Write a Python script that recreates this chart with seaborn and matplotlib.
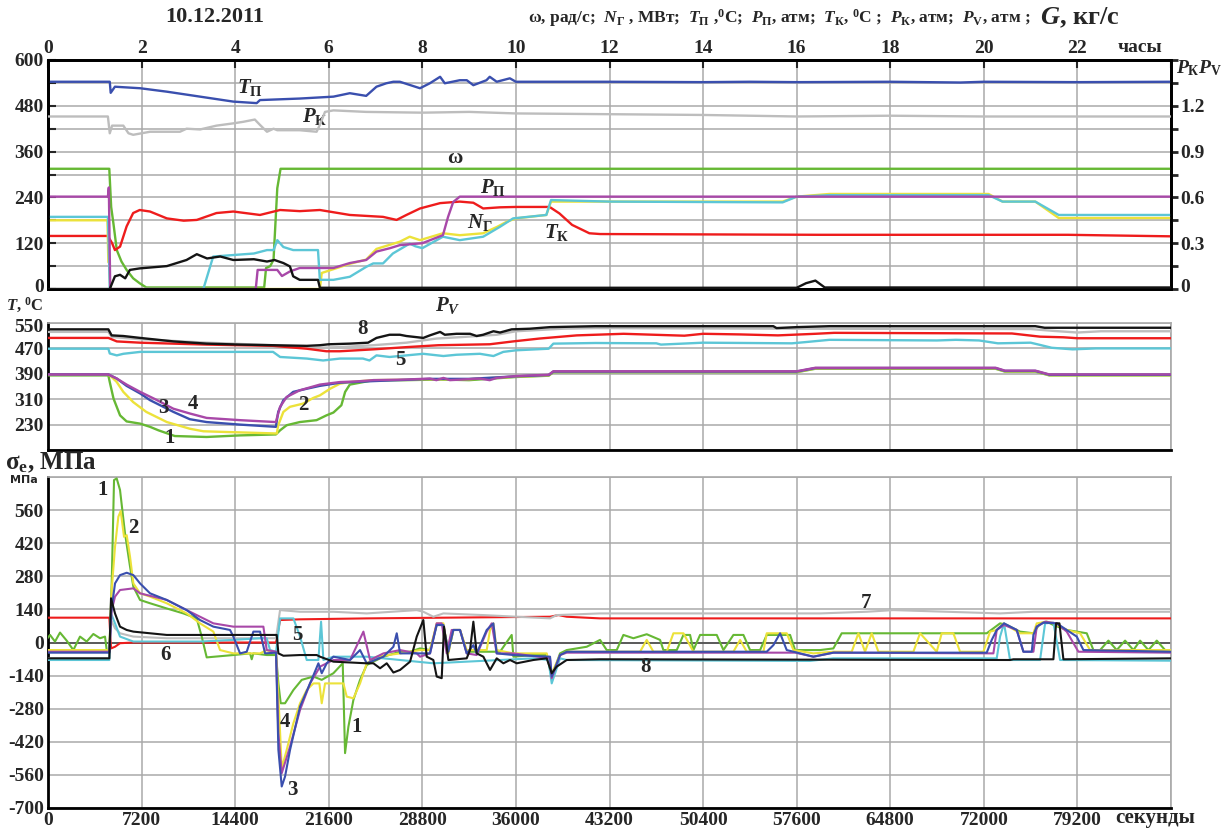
import matplotlib
matplotlib.use("Agg")
import matplotlib.pyplot as plt
import matplotlib.transforms as mtransforms
import numpy as np
import pandas as pd
import seaborn as sns

# ---------------- data: top panel (hours) ----------------
hours_ticks = [0, 2, 4, 6, 8, 10, 12, 14, 16, 18, 20, 22]
tp_blue = [(0, 543), (1.32, 543), (1.34, 514), (1.43, 530), (1.97, 526), (2.54, 517), (3.25, 504), (3.96, 491),
           (4.46, 487), (4.53, 495), (5.38, 499), (6.1, 504), (6.45, 513), (6.8, 506), (7.02, 530), (7.23, 539),
           (7.38, 543), (7.52, 543), (7.95, 526), (8.16, 539), (8.38, 556), (8.48, 539), (8.8, 547), (8.95, 547),
           (9.09, 534), (9.37, 547), (9.44, 556), (9.59, 543), (9.87, 552), (10.0, 543), (12.0, 543), (14.0, 542),
           (15.0, 543), (16.0, 542), (18.0, 543), (19.5, 541), (20.0, 543), (22.0, 542), (24.0, 543)]
pk_gray_atm = [(0, 1.13), (1.28, 1.13), (1.30, 1.075), (1.32, 1.02), (1.37, 1.07), (1.61, 1.07), (1.72, 1.02),
               (1.82, 1.01), (2.18, 1.03), (2.82, 1.03), (2.96, 1.05), (3.25, 1.045), (3.6, 1.07), (3.96, 1.085),
               (4.17, 1.095), (4.42, 1.11), (4.53, 1.075), (4.68, 1.03), (4.82, 1.05), (4.9, 1.04), (5.38, 1.04),
               (5.74, 1.03), (5.81, 1.075), (5.92, 1.16), (6.1, 1.17), (6.8, 1.16), (8.0, 1.155), (9.0, 1.16),
               (10.0, 1.15), (12.0, 1.145), (14.0, 1.14), (16.0, 1.13), (18.0, 1.135), (20.0, 1.13), (22.0, 1.13),
               (24.0, 1.13)]
omega_green = [(0, 315), (1.31, 315), (1.35, 215), (1.40, 170), (1.47, 102), (1.57, 72), (1.68, 50), (1.82, 28),
               (1.96, 15), (2.1, 4), (4.62, 4), (4.66, 55), (4.75, 60), (4.82, 77), (4.9, 264), (4.97, 315),
               (24, 315)]
pp_magenta = [(0, 242), (1.28, 242), (1.30, 266), (1.33, 0), (4.44, 0), (4.48, 50), (4.9, 50), (5.0, 34),
              (5.17, 46), (5.38, 55), (6.1, 55), (6.45, 68), (6.8, 76), (7.02, 98), (7.31, 107), (7.52, 115),
              (8.0, 120), (8.44, 141), (8.55, 189), (8.66, 228), (8.8, 242), (24, 242)]
ng_yellow = [(0, 180), (1.27, 180), (1.29, 70), (1.31, 70), (1.33, 0), (5.81, 0), (5.85, 42), (6.1, 52),
             (6.45, 66), (6.8, 77), (7.02, 105), (7.52, 124), (7.73, 137), (7.95, 128), (8.44, 146), (8.8, 141),
             (9.3, 146), (9.6, 163), (9.8, 176), (10.0, 185), (10.65, 194), (10.75, 229), (12, 229), (15.7, 229),
             (16.0, 242), (16.4, 246), (16.7, 249), (20.1, 249), (20.4, 229), (21.1, 229), (21.6, 186), (24, 186)]
g_cyan = [(0, 189), (1.28, 189), (1.30, 100), (1.32, 0), (3.32, 0), (3.53, 85), (3.96, 89), (4.4, 93),
          (4.68, 102), (4.82, 102), (4.9, 128), (5.03, 110), (5.24, 102), (5.77, 102), (5.81, 24), (6.1, 24),
          (6.45, 32), (6.8, 58), (6.95, 67), (7.16, 67), (7.37, 93), (7.73, 119), (7.85, 112), (8.0, 107),
          (8.44, 137), (8.8, 128), (9.3, 137), (9.66, 163), (9.94, 185), (10.65, 194), (10.75, 233), (12, 229),
          (15.7, 227), (16.0, 242), (16.4, 244), (16.7, 246), (20.1, 246), (20.4, 229), (21.1, 229), (21.6, 194),
          (24, 194)]
tk_red = [(0, 139), (1.28, 139), (1.37, 120), (1.43, 102), (1.54, 111), (1.68, 164), (1.82, 199), (1.96, 207),
          (2.18, 203), (2.54, 185), (2.9, 179), (3.18, 181), (3.6, 199), (3.96, 203), (4.53, 194), (4.96, 207),
          (5.38, 204), (5.81, 207), (6.45, 194), (7.16, 189), (7.45, 181), (7.66, 194), (7.95, 211), (8.38, 225),
          (8.8, 229), (9.09, 226), (9.3, 211), (9.66, 214), (10.0, 215), (10.72, 215), (10.93, 198), (11.2, 168),
          (11.57, 146), (11.8, 144), (16.5, 142), (21.8, 142), (24, 138)]
pv_black_atm = [(0, 0), (1.32, 0), (1.43, 0.083), (1.54, 0.093), (1.65, 0.07), (1.75, 0.125), (1.96, 0.135),
                (2.54, 0.15), (2.96, 0.19), (3.18, 0.228), (3.4, 0.2), (3.68, 0.213), (3.96, 0.19), (4.4, 0.195),
                (4.68, 0.18), (4.84, 0.19), (5.03, 0.17), (5.17, 0.148), (5.24, 0.083), (5.38, 0.06),
                (5.77, 0.06), (5.81, 0.008), (16.0, 0.008), (16.2, 0.038), (16.4, 0.055), (16.6, 0.01), (24, 0.01)]

# ---------------- data: middle panel, temperatures (hours) ----------------
t8_black = [(0, 530), (1.29, 530), (1.36, 511), (1.61, 509), (1.97, 503), (2.68, 492), (3.39, 485), (4.1, 482),
            (4.81, 480), (5.53, 478), (5.81, 480), (6.0, 483), (6.45, 485), (6.84, 488), (7.02, 503), (7.3, 513),
            (7.52, 513), (7.66, 509), (8.02, 503), (8.16, 511), (8.38, 522), (8.48, 513), (8.73, 516), (9.02, 516),
            (9.16, 509), (9.3, 513), (9.52, 524), (9.66, 520), (9.91, 530), (10.3, 532), (10.73, 537), (11.7, 540),
            (15.5, 540), (15.57, 534), (16.0, 537), (16.7, 540), (21.1, 540), (21.3, 535), (24, 535)]
t7_gray = [(0, 522), (1.29, 522), (1.36, 506), (1.97, 499), (3.39, 488), (4.81, 480), (5.53, 471), (6.24, 474),
           (6.95, 480), (7.66, 488), (8.3, 501), (8.87, 506), (9.59, 513), (10.0, 524), (11.0, 532), (11.7, 534),
           (16.0, 532), (21.0, 531), (21.5, 525), (22.0, 520), (22.5, 524), (24, 524)]
t6_red = [(0, 503), (1.29, 503), (1.47, 492), (1.97, 488), (2.68, 485), (3.39, 482), (4.1, 480), (4.81, 478),
          (5.53, 469), (5.95, 461), (6.24, 461), (6.95, 467), (7.66, 474), (8.34, 480), (9.44, 483), (9.94, 492),
          (10.5, 501), (11.3, 511), (12.3, 516), (13.6, 510), (14.0, 516), (14.8, 514), (15.6, 511), (16.4, 516),
          (16.8, 519), (20.6, 517), (21.2, 507), (21.7, 505), (22.0, 502), (24, 502)]
t5_cyan = [(0, 469), (1.29, 469), (1.32, 454), (1.47, 448), (1.61, 453), (1.97, 459), (4.81, 459), (4.96, 443),
           (5.53, 438), (5.88, 432), (6.24, 438), (6.73, 438), (6.87, 432), (7.02, 448), (7.3, 443), (7.66, 448),
           (8.02, 453), (8.45, 446), (8.73, 450), (9.23, 453), (9.52, 446), (9.73, 459), (10.0, 464), (10.7, 469),
           (10.8, 485), (11.7, 487), (13.0, 486), (13.1, 482), (14.0, 488), (15.9, 486), (16.2, 490), (16.7, 497),
           (19.0, 495), (19.4, 497), (19.9, 495), (20.3, 486), (21.0, 488), (21.2, 481), (21.45, 472), (21.9, 467),
           (22.4, 470), (24, 470)]
t4_magenta = [(0, 388), (1.29, 388), (1.47, 375), (1.68, 356), (1.97, 333), (2.29, 310), (2.68, 280), (3.03, 265),
              (3.39, 251), (4.1, 244), (4.87, 238), (4.89, 249), (4.96, 286), (5.1, 317), (5.38, 338), (5.81, 356),
              (6.24, 364), (6.6, 366), (6.95, 370), (7.66, 372), (8.16, 375), (8.3, 370), (8.45, 377), (8.59, 370),
              (9.23, 375), (9.44, 370), (9.59, 377), (10.0, 383), (10.7, 387), (10.8, 398), (16.0, 398),
              (16.4, 409), (20.25, 409), (20.45, 400), (21.1, 400), (21.4, 388), (24, 388)]
t3_blue = [(0, 388), (1.29, 388), (1.47, 375), (1.68, 352), (1.97, 328), (2.18, 307), (2.68, 270), (3.03, 247),
           (3.39, 238), (4.1, 230), (4.87, 223), (4.92, 270), (5.03, 307), (5.24, 333), (5.53, 343), (5.81, 352),
           (6.24, 362), (6.95, 367), (7.66, 371), (8.16, 374), (9.0, 374), (10.0, 382), (10.7, 386), (10.8, 397),
           (16.0, 397), (16.4, 408), (20.25, 408), (20.45, 399), (21.1, 399), (21.4, 387), (24, 387)]
t2_yellow = [(0, 387), (1.29, 387), (1.36, 380), (1.47, 364), (1.61, 333), (1.82, 301), (2.1, 270), (2.54, 238),
             (3.03, 217), (3.32, 209), (3.75, 207), (4.89, 202), (4.92, 228), (5.03, 270), (5.17, 286), (5.45, 296),
             (5.67, 314), (5.81, 322), (6.03, 343), (6.24, 359), (6.45, 364), (6.95, 370), (7.66, 371), (8.16, 373),
             (9.0, 373), (10.0, 381), (10.7, 385), (10.8, 396), (16.0, 396), (16.4, 407), (20.25, 407),
             (20.45, 398), (21.1, 398), (21.4, 386), (24, 386)]
t1_green = [(0, 385), (1.29, 385), (1.32, 364), (1.4, 312), (1.54, 259), (1.68, 240), (1.97, 233), (2.18, 223),
            (2.36, 212), (2.71, 194), (3.39, 191), (4.1, 196), (4.87, 199), (4.96, 212), (5.1, 228), (5.38, 238),
            (5.74, 244), (5.95, 259), (6.1, 268), (6.27, 291), (6.35, 333), (6.45, 356), (6.67, 362), (6.95, 370),
            (7.66, 370), (8.37, 372), (9.0, 370), (10.0, 380), (10.7, 384), (10.8, 395), (16.0, 395), (16.4, 406),
            (20.25, 406), (20.45, 397), (21.1, 397), (21.4, 385), (24, 385)]

# ---------------- data: bottom panel, stresses (seconds) ----------------
seconds_ticks = [0, 7200, 14400, 21600, 28800, 36000, 43200, 50400, 57600, 64800, 72000, 79200]
s1_green = [(0, 20), (154, 32), (539, 4), (924, 42), (1437, 8), (1950, -32), (2463, 25), (2976, 4), (3489, 36),
            (4002, 18), (4387, 25), (4515, -32), (4720, -32), (4900, 250), (5080, 687), (5285, 694), (5541, 645),
            (5926, 461), (6311, 321), (6567, 236), (7080, 180), (7850, 166), (9132, 144), (10415, 123),
            (11441, 102), (11826, 25), (12210, -63), (14262, -53), (15545, -46), (15673, -71), (15801, -46),
            (16827, -53), (17545, -53), (17725, -173), (17904, -257), (18238, -257), (18880, -201), (19521, -158),
            (20418, -144), (21060, -158), (21957, -130), (22675, -88), (22855, -468), (23112, -356), (23496, -243),
            (24009, -158), (24522, -95), (25805, -60), (27087, -39), (27853, -39), (28622, -25), (29392, -32),
            (29905, 74), (30418, 74), (30802, -39), (31187, 53), (31700, 53), (32213, -39), (34778, -39),
            (35676, 32), (35804, -60), (37343, -53), (38369, -53), (38754, -144), (39395, -46), (39908, -32),
            (41447, -18), (42473, 11), (42986, -32), (43756, -32), (44269, 32), (45038, 18), (46064, 35),
            (47090, 11), (47347, -32), (48373, -32), (48886, 32), (49399, 32), (49655, -32), (50168, 32),
            (51451, 32), (51964, -32), (52733, 32), (53503, 32), (54016, -32), (54785, -32), (55298, 32),
            (57094, 32), (57478, -32), (59402, -32), (60424, -25), (61065, 39), (72223, 39), (73249, 81),
            (73762, 74), (74788, 46), (75814, 39), (76327, 81), (76840, 88), (77353, 74), (78379, 53), (79918, 39),
            (80431, -32), (80944, -32), (81585, 8), (82227, -32), (82868, 8), (83509, -32), (84022, 8),
            (84663, -32), (85305, 8), (85946, -32), (86400, -32)]
s2_yellow = [(0, -32), (4720, -32), (4900, 222), (5156, 405), (5413, 532), (5592, 556), (5849, 447), (6054, 454),
             (6311, 363), (6567, 250), (7080, 208), (7850, 194), (9132, 166), (10671, 123), (11697, 81),
             (12723, 46), (13236, -32), (14262, -46), (16314, -46), (16827, -32), (17545, -46), (17801, -313),
             (17981, -532), (18366, -454), (18880, -341), (19392, -257), (19905, -201), (20418, -173),
             (20880, -173), (21060, -257), (21316, -173), (22727, -173), (22983, -229), (23496, -236),
             (24009, -173), (24522, -88), (25292, -60), (27087, -46), (28622, -32), (29392, -32), (29905, 81),
             (30418, 81), (30802, -46), (31187, 53), (31700, 53), (32213, -32), (33752, -32), (34009, 53),
             (34265, 81), (34522, -32), (35804, -46), (38369, -46), (38754, -130), (39395, -53), (39908, -39),
             (45551, -39), (46064, 11), (46577, -39), (47603, -39), (48116, 39), (48886, 39), (49655, -39),
             (52733, -39), (53247, 11), (53760, -39), (55042, -39), (55298, 39), (56837, 39), (57350, -32),
             (58885, -46), (60424, -39), (61835, -39), (62348, 39), (62861, -39), (63374, 39), (63887, -39),
             (66580, -39), (67093, 39), (68376, -39), (68760, 39), (69658, 39), (70171, -39), (71967, -39),
             (72480, 46), (72993, 53), (73506, 81), (74788, 39), (75814, 39), (76071, 81), (76840, 88),
             (77353, 81), (78379, 53), (79405, 39), (80175, -32), (86400, -32)]
s3_blue = [(0, -43), (4720, -43), (4848, 123), (5156, 250), (5541, 285), (6054, 295), (6567, 285), (7080, 250),
           (7850, 208), (9132, 180), (10671, 137), (11697, 95), (12723, 67), (14006, 53), (14262, 25),
           (14775, -46), (15288, -39), (15801, 46), (16314, 46), (16700, -46), (17545, -43), (17725, -454),
           (17981, -609), (18238, -567), (18623, -454), (19392, -271), (20162, -173), (20803, -88), (21060, -130),
           (21444, -88), (21957, -60), (23240, -74), (24009, -32), (24522, -88), (25805, -60), (26574, -18),
           (26831, 39), (27087, -46), (28622, -46), (29392, -46), (29905, 74), (30418, 74), (30802, -39),
           (31187, 53), (31700, 53), (32213, -46), (32726, -11), (32983, -46), (33752, 53), (34265, 81),
           (34522, -46), (35804, -53), (38625, -60), (38754, -144), (39395, -53), (39908, -39), (55298, -39),
           (55811, -11), (56324, 39), (56837, -32), (57350, -39), (58885, -60), (60424, -43), (72223, -43),
           (72608, 11), (72993, 53), (73557, 81), (74531, 53), (75045, -39), (75686, -39), (75814, 32),
           (76071, 67), (76584, 84), (77609, 81), (78379, 53), (79148, 25), (79661, -32), (86400, -39)]
s4_magenta = [(0, -39), (4720, -39), (4900, 137), (5156, 194), (5541, 222), (6567, 229), (7080, 208),
              (9132, 180), (10671, 137), (11697, 109), (12723, 81), (14262, 67), (16571, 67), (16827, -32),
              (17545, -39), (17725, -384), (17981, -553), (18623, -440), (19392, -285), (20162, -173),
              (20931, -102), (21957, -74), (23240, -74), (24266, 46), (24779, -74), (25805, -46), (27087, -32),
              (28370, -46), (28622, -60), (29392, -46), (29905, 81), (30290, 81), (30674, -46), (31059, 53),
              (31700, 53), (32213, -46), (32983, -53), (33752, 46), (34137, 81), (34522, -46), (35804, -46),
              (38625, -67), (38754, -151), (39395, -53), (39908, -43), (57500, -43), (58885, -60), (60424, -43),
              (72736, -46), (72993, 53), (73557, 74), (74531, 53), (75045, -39), (75814, -39), (76071, 67),
              (76712, 88), (77609, 81), (78379, 46), (79277, -39), (86400, -43)]
s5_cyan = [(0, -74), (4720, -74), (4848, 123), (5156, 81), (5541, 25), (6567, 4), (11697, 4), (14262, 11),
           (16314, 18), (16827, 18), (17083, -32), (17545, -39), (17853, 102), (18880, 102), (19392, 25),
           (19905, -74), (20803, -74), (21009, 88), (21188, -74), (21957, -60), (24522, -60), (27087, -74),
           (29648, -88), (32213, -81), (34778, -74), (37343, -67), (38497, -74), (38754, -173), (39395, -67),
           (39908, -74), (58629, -78), (60424, -67), (72993, -67), (73249, 25), (73557, 81), (74018, -74),
           (76327, -74), (76712, 81), (77353, 84), (77866, -74), (86400, -77)]
s6_red = [(0, 105), (4720, 105), (4848, -25), (5156, -18), (5541, -3), (6567, 0), (17545, 0), (17853, 95),
          (19392, 98), (24522, 102), (38625, 109), (39267, 116), (39908, 109), (42473, 102), (86400, 102)]
s7_gray = [(0, -67), (4720, -67), (4848, 95), (5156, 60), (5541, 39), (6567, 25), (9132, 18), (17545, 18),
           (17853, 137), (19392, 130), (21957, 130), (24522, 123), (28370, 137), (28878, 130), (29648, 109),
           (30418, 123), (33495, 116), (38625, 102), (39139, 116), (42473, 123), (59402, 123), (62989, 130),
           (65041, 137), (73249, 123), (75814, 130), (86400, 130)]
s8_black = [(0, -67), (4720, -67), (4848, 187), (5156, 123), (5541, 67), (6054, 53), (6567, 46), (7850, 39),
            (9132, 32), (17597, 32), (17725, -46), (18110, -56), (19392, -53), (20675, -53), (20931, -60),
            (21957, -81), (24522, -88), (25035, -88), (25548, -109), (26061, -88), (26574, -127), (27087, -116),
            (27857, -81), (28370, 25), (28878, 95), (29135, -60), (29648, -74), (29905, -144), (30290, -151),
            (30469, 67), (30802, -74), (32213, -67), (32470, -32), (32726, 88), (32983, -46), (33495, -60),
            (34009, -116), (34522, -67), (35035, -88), (35548, -74), (36061, -88), (37343, -74), (38369, -67),
            (38754, -130), (39139, -102), (39908, -74), (42473, -71), (74018, -74), (74275, -71), (77353, -71),
            (77558, 81), (77815, 81), (78122, -71), (86400, -67)]

# ---------------- style ----------------
BLUE, GRAY, GREEN, MAG = "#3a4fae", "#bdbdbd", "#66b834", "#a848a8"
RED, YEL, CYAN, BLACK = "#ee1c1c", "#ece23a", "#5cc6d6", "#141414"
GRID = "#a9a9a9"

sns.set_style("white")
plt.rcParams["font.family"] = ["Liberation Serif", "DejaVu Serif"]
plt.rcParams["font.weight"] = "bold"
plt.rcParams["mathtext.fontset"] = "custom"
plt.rcParams["mathtext.rm"] = "Liberation Serif:bold"
plt.rcParams["mathtext.it"] = "Liberation Serif:italic:bold"
plt.rcParams["mathtext.bf"] = "Liberation Serif:bold"

W, H = 1226, 831
fig = plt.figure(figsize=(W / 100, H / 100), dpi=100)


def box(x0, y0, x1, y1):
    return [x0 / W, 1 - y1 / H, (x1 - x0) / W, (y1 - y0) / H]


ax1 = fig.add_axes(box(48, 60, 1171, 289))
ax2 = fig.add_axes(box(48, 323, 1171, 450))
ax3 = fig.add_axes(box(48, 477, 1171, 808))


def draw(ax, pairs, color, lw=1.7, z=3):
    df = pd.DataFrame(pairs, columns=["x", "y"])
    sns.lineplot(data=df, x="x", y="y", ax=ax, color=color, linewidth=lw, estimator=None,
                 sort=False, legend=False, zorder=z)


def shift(lbl, dy_px):
    off = mtransforms.ScaledTranslation(0, dy_px / 100, fig.dpi_scale_trans)
    lbl.set_transform(lbl.get_transform() + off)


FS = 14

# ---------- top panel ----------
ax1r = ax1.twinx()
draw(ax1, omega_green, GREEN)
draw(ax1, tk_red, RED)
draw(ax1, ng_yellow, YEL)
draw(ax1, g_cyan, CYAN)
draw(ax1, pp_magenta, MAG)
draw(ax1, tp_blue, BLUE)
draw(ax1r, pk_gray_atm, GRAY)
draw(ax1r, pv_black_atm, BLACK)

ax1.set_xlim(0, 24)
ax1.set_ylim(0, 600)
ax1r.set_ylim(0, 1.5)
ax1.set_yticks(np.arange(0, 601, 60))
ax1.set_yticklabels([str(v) if v % 120 == 0 else "" for v in range(0, 601, 60)])
ax1.set_xticks(list(hours_ticks) + [24])
ax1.xaxis.tick_top()
ax1.set_xticklabels([str(h) for h in hours_ticks] + [""])
ax1.grid(True, color=GRID, lw=1.1)
ax1.tick_params(axis="both", labelsize=FS, direction="in", length=6, width=1.5, pad=3)
ax1.tick_params(axis="x", pad=2)
rt = np.round(np.arange(0, 1.51, 0.15), 2)
ax1r.set_yticks(rt)
ax1r.set_yticklabels(["0", "", "0.3", "", "0.6", "", "0.9", "", "1.2", "", ""])
ax1r.tick_params(axis="y", labelsize=FS, direction="out", length=5, width=2, pad=2)
shift(ax1.get_yticklabels()[0], 4)
shift(ax1r.get_yticklabels()[0], 4)
for a in (ax1, ax1r):
    a.set_xlabel("")
    a.set_ylabel("")
    for s in a.spines.values():
        s.set_color("black")
        s.set_linewidth(2)

# ---------- middle panel ----------
for pairs, c in [(t7_gray, GRAY), (t6_red, RED), (t5_cyan, CYAN), (t8_black, BLACK), (t1_green, GREEN),
                 (t2_yellow, YEL), (t3_blue, BLUE), (t4_magenta, MAG)]:
    draw(ax2, pairs, c)
ax2.set_xlim(0, 24)
ax2.set_ylim(150, 550)
ax2.set_xticks(range(0, 25, 2))
ax2.set_xticklabels([])
ax2.set_yticks([150, 230, 310, 390, 470, 550])
ax2.set_yticklabels(["", "230", "310", "390", "470", "550"])
ax2.grid(True, color=GRID, lw=1.1)
ax2.tick_params(axis="y", labelsize=FS, direction="in", length=5, width=1.5, pad=3)
ax2.tick_params(axis="x", length=0)
shift(ax2.get_yticklabels()[-1], -3)
ax2.set_xlabel("")
ax2.set_ylabel("")

# ---------- bottom panel ----------
ax3.axhline(0, color="#4a4a4a", lw=1.2, zorder=1)
for pairs, c in [(s6_red, RED), (s7_gray, GRAY), (s1_green, GREEN), (s2_yellow, YEL), (s5_cyan, CYAN),
                 (s4_magenta, MAG), (s3_blue, BLUE), (s8_black, BLACK)]:
    draw(ax3, pairs, c, lw=1.5)
ax3.set_xlim(0, 86400)
ax3.set_ylim(-700, 700)
ax3.set_xticks(list(seconds_ticks) + [86400])
ax3.set_xticklabels([str(s) for s in seconds_ticks] + [""])
yt = list(range(-700, 701, 140))
ax3.set_yticks(yt)
ax3.set_yticklabels([str(v) if v != 700 else "" for v in yt])
ax3.grid(True, color=GRID, lw=1.1)
ax3.tick_params(axis="both", labelsize=FS, direction="in", length=5, width=1.5, pad=3)
ax3.set_xlabel("")
ax3.set_ylabel("")

for a in (ax2, ax3):
    for side in ("left", "bottom"):
        a.spines[side].set_color("black")
        a.spines[side].set_linewidth(2)
    for side in ("top", "right"):
        a.spines[side].set_color(GRID)
        a.spines[side].set_linewidth(1.2)

# ---------- annotations ----------
lab = dict(fontsize=15, ha="center", va="center", zorder=10)
ax1.text(4.32, 529, r"$\mathit{T}_{\mathrm{П}}$", **lab)
ax1.text(5.7, 451, r"$\mathit{P}_{\mathrm{К}}$", **lab)
ax1.text(8.7, 343, "ω", **lab)
ax1.text(9.5, 267, r"$\mathit{P}_{\mathrm{П}}$", **lab)
ax1.text(9.23, 175, r"$\mathit{N}_{\mathrm{Г}}$", **lab)
ax1.text(10.88, 149, r"$\mathit{T}_{\mathrm{К}}$", **lab)
ax1.text(8.55, -42, r"$\mathit{P}_{\mathit{V}}$", clip_on=False, **lab)

for h, v, t in [(6.73, 531, "8"), (7.52, 434, "5"), (2.46, 282, "3"), (3.1, 295, "4"), (5.45, 292, "2"),
                (2.6, 188, "1")]:
    ax2.text(h, v, t, **lab)

for s, v, t in [(4232, 645, "1"), (6540, 484, "2"), (19158, 31, "5"), (9002, -53, "6"), (18235, -336, "4"),
                (18773, -624, "3"), (23775, -358, "1"), (62937, 167, "7"), (45933, -104, "8")]:
    ax3.text(s, v, t, **lab)

fig.text(215 / W, 1 - 17 / H, "10.12.2011", fontsize=16, ha="center", va="center")
fig.text(528 / W, 1 - 18 / H,
         r"ω, рад/с;  $\mathit{N}_{\mathrm{Г}}$ , МВт;  $\mathit{T}_{\mathrm{П}}$ ,$^{\mathrm{0}}$C;  "
         r"$\mathit{P}_{\mathrm{П}}$, атм;  $\mathit{T}_{\mathrm{К}}$, $^{\mathrm{0}}$C ;  "
         r"$\mathit{P}_{\mathrm{К}}$, атм;  $\mathit{P}_{\mathrm{V}}$, атм ;",
         fontsize=12.5, ha="left", va="center")
fig.text(1040 / W, 1 - 18 / H, r"$\mathit{G}$, кг/с", fontsize=19, ha="left", va="center")
fig.text(1140 / W, 1 - 47 / H, "часы", fontsize=14, ha="center", va="center")
fig.text(1176 / W, 1 - 68 / H, r"$\mathit{P}_{\mathrm{К}}\mathit{P}_{\mathrm{V}}$", fontsize=14, ha="left",
         va="center")
fig.text(6 / W, 1 - 305 / H, r"$\mathit{T}$, $^{\mathrm{0}}$C", fontsize=12, ha="left", va="center")
fig.text(5 / W, 1 - 463 / H, r"$\mathrm{σ}_{\mathrm{e}}$, МПа", fontsize=18, ha="left", va="center")
fig.text(10 / W, 1 - 480 / H, "МПа", fontsize=8, ha="left", va="center",
         family=["DejaVu Sans"])
fig.text(1155 / W, 1 - 818 / H, "секунды", fontsize=15, ha="center", va="center")

fig.savefig("out.png", dpi=100, facecolor="white")
